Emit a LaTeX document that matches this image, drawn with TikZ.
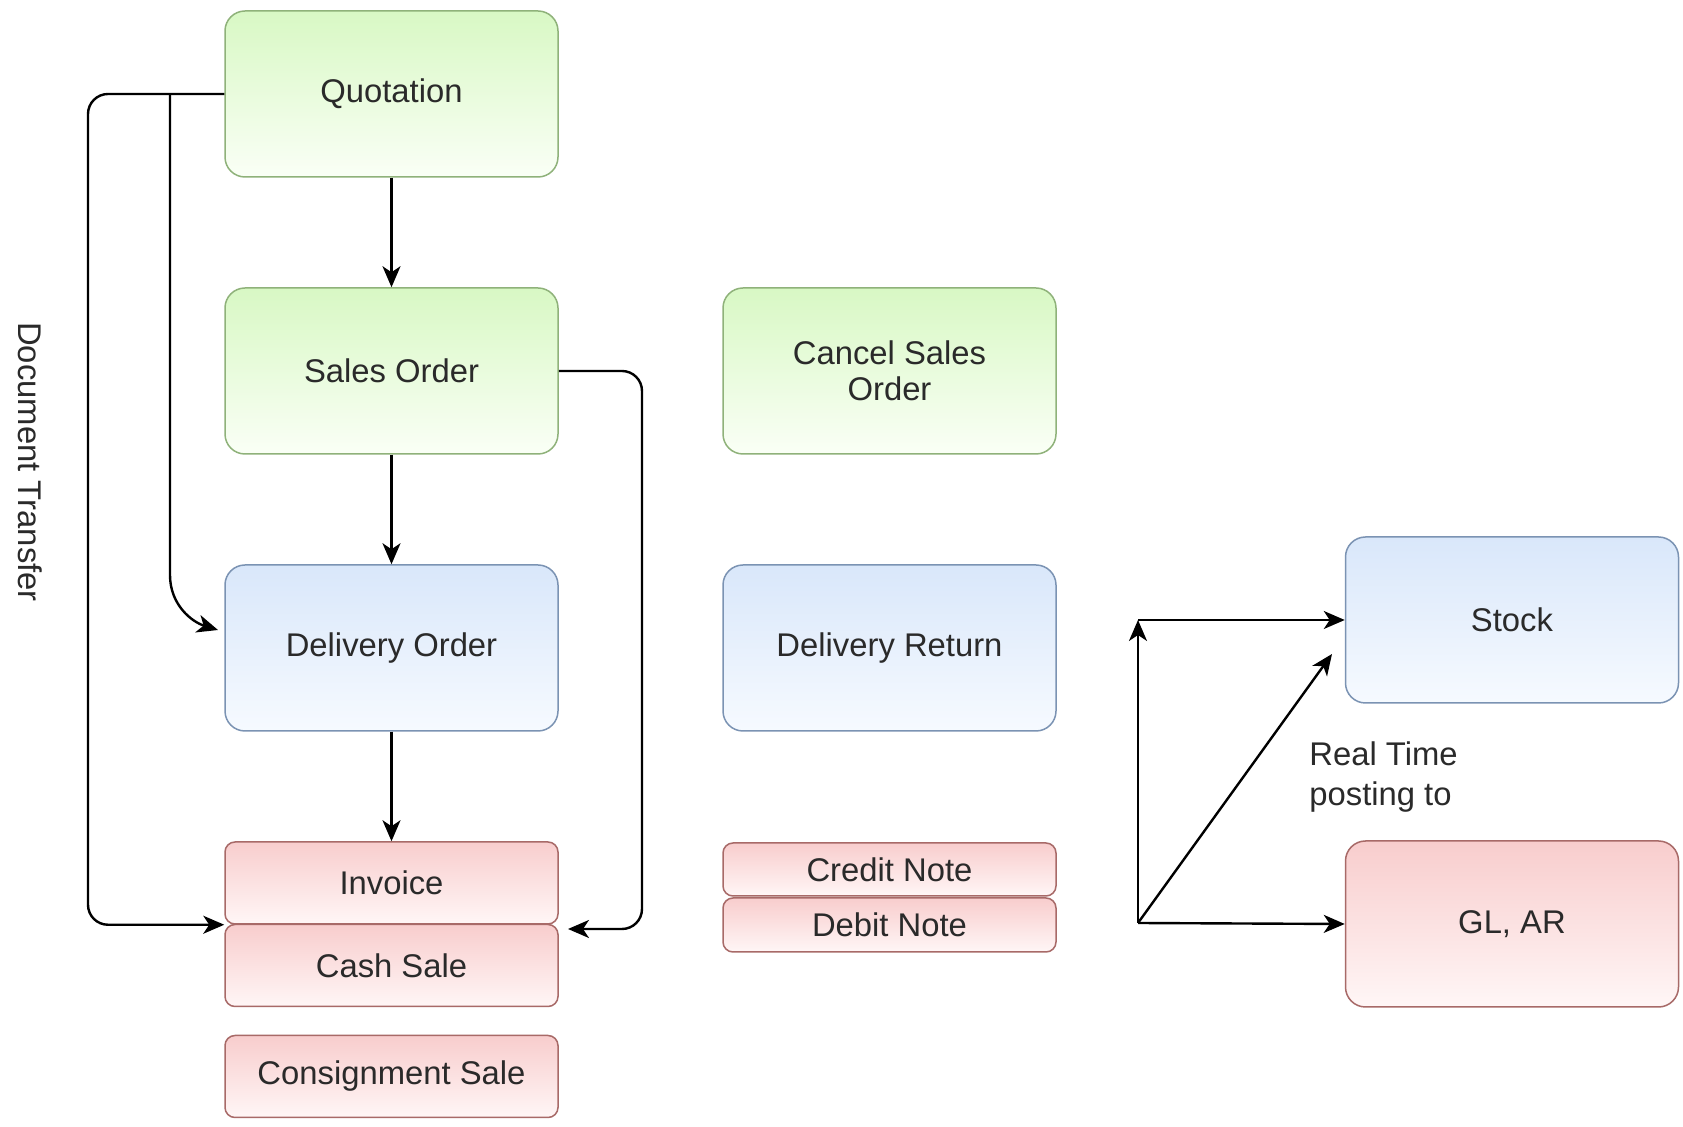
\documentclass[tikz,border=0pt]{standalone}
\usepackage{fontspec}
\setmainfont{Liberation Sans}
\usetikzlibrary{arrows.meta}
\definecolor{txt}{HTML}{2A2A2A}
\definecolor{gtop}{HTML}{D8F8C4}
\definecolor{gbot}{HTML}{FAFFF6}
\definecolor{gline}{HTML}{8FB27A}
\definecolor{btop}{HTML}{D9E7FA}
\definecolor{bbot}{HTML}{F6FAFF}
\definecolor{bline}{HTML}{7B93B3}
\definecolor{rtop}{HTML}{F8CDCD}
\definecolor{rbot}{HTML}{FFF6F6}
\definecolor{rline}{HTML}{A86A68}
\tikzset{
  box/.style={rectangle, rounded corners=10pt, line width=0.75pt, minimum width=166.5pt, minimum height=83pt, inner sep=0pt, align=center, text=txt, font=\fontsize{16.4}{19}\selectfont},
  greenbox/.style={box, draw=gline, top color=gtop, bottom color=gbot},
  bluebox/.style={box, draw=bline, top color=btop, bottom color=bbot},
  redbox/.style={box, draw=rline, top color=rtop, bottom color=rbot},
  smallred/.style={redbox, rounded corners=5pt},
  conn/.style={line width=1.2pt, black, -{Stealth[length=10.5pt,width=9pt,inset=3pt]}},
  lbl/.style={text=txt, font=\fontsize{16.4}{19}\selectfont, inner sep=0pt}
}
\begin{document}
\begin{tikzpicture}[x=0.5pt,y=-0.5pt]
\useasboundingbox (0,0) rectangle (1683,1127);
\fill[white] (0,0) rectangle (1683,1127);
% left column
\node[greenbox] (quot) at (391.5,94) {Quotation};
\node[greenbox] (so) at (391.5,371) {Sales Order};
\node[bluebox] (do) at (391.5,648) {Delivery Order};
\node[smallred, minimum height=41pt] (inv) at (391.5,883) {Invoice};
\node[smallred, minimum height=41pt] (cash) at (391.5,965.5) {Cash Sale};
\node[smallred, minimum height=41pt] (cons) at (391.5,1076.5) {Consignment Sale};
% middle column
\node[greenbox] (cso) at (889.5,371) {Cancel Sales\\[-1pt]Order};
\node[bluebox] (dr) at (889.5,648) {Delivery Return};
\node[smallred, minimum height=26.5pt] (cn) at (889.5,869.5) {Credit Note};
\node[smallred, minimum height=27pt] (dn) at (889.5,925) {Debit Note};
% right column
\node[bluebox] (stock) at (1512,620) {Stock};
\node[redbox] (glar) at (1512,924) {GL, AR};
% labels
\node[lbl, rotate=-90] (dt) at (30,462) {Document Transfer};
\node[lbl, anchor=north west, align=left] (rt) at (1309,741) {Real Time\\[1pt]posting to};
% connectors
\coordinate (qb) at (170,94);
\coordinate (jn) at (1138,923);
\coordinate (jt) at (1138,620);
\coordinate (dtip) at (1332,654);
\coordinate (sotip) at (568,929);
\coordinate (dotip) at (218,630);
\draw[conn] (quot) -- (so);
\draw[conn] (so.south) -- (do.north);
\draw[conn] (do) -- (inv);
\draw[conn, rounded corners=10pt] (quot.west) -- (88,94) |- (inv.south west);
\draw[conn] (qb) -- (170,575) .. controls (170,605) and (192,622) .. (dotip);
\draw[conn, rounded corners=10pt] (so.east) -- (642,371) |- (sotip);
\draw[conn] (jn) -- (jt);
\draw[conn] (jt) -- (stock.west);
\draw[conn] (jn) -- (glar.west);
\draw[conn] (jn) -- (dtip);
\end{tikzpicture}
\end{document}
